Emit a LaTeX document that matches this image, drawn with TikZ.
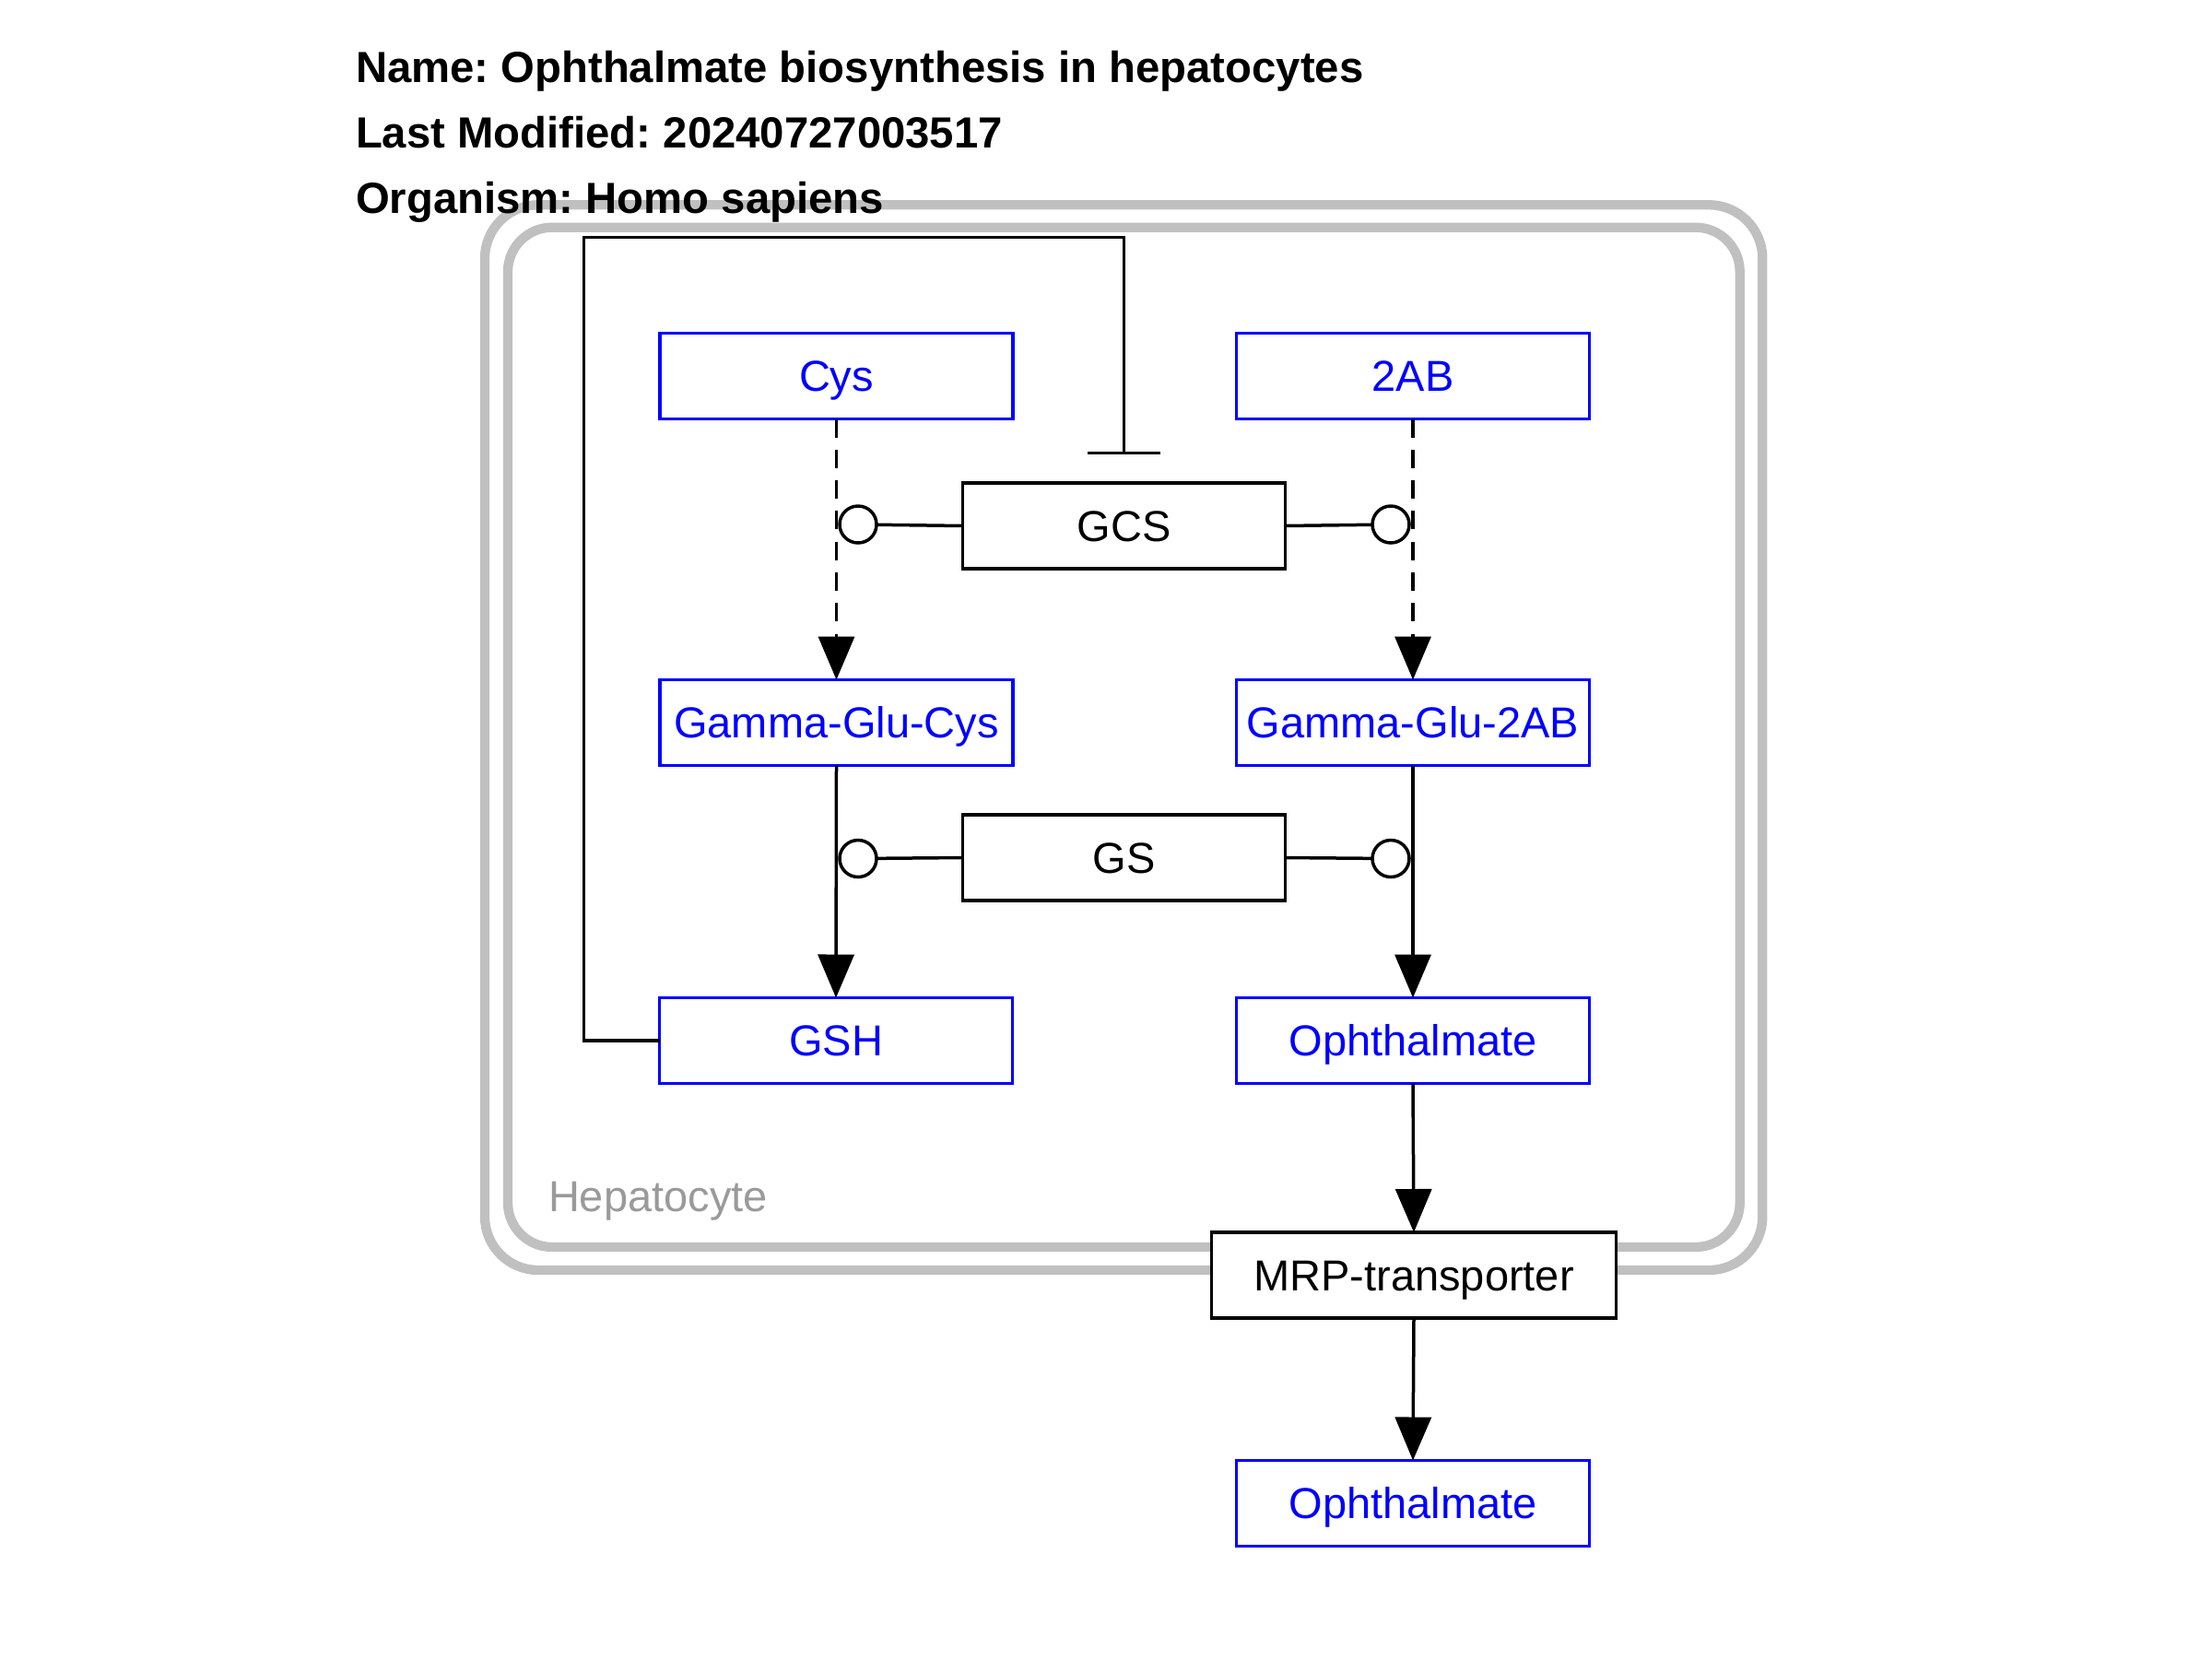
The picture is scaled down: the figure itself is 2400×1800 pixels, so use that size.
\documentclass[tikz,border=0pt]{standalone}
\usepackage{fontspec}
\setmainfont{Liberation Sans}
\usetikzlibrary{arrows.meta}
\definecolor{compgray}{HTML}{C0C0C0}
\definecolor{labgray}{HTML}{9A9A9A}
\definecolor{mblue}{HTML}{0000FF}
\frenchspacing
\begin{document}
\begin{tikzpicture}[x=1pt,y=-1pt,
  every node/.style={inner sep=0pt, outer sep=0pt},
  fs/.style={font=\fontsize{47}{56}\selectfont},
  titlefs/.style={font=\fontsize{47.3}{56}\selectfont\bfseries},
  metab/.style={rectangle, draw=mblue, text=mblue, line width=3.5pt, fill=white,
    minimum width=383pt, minimum height=93pt, fs, text height=33.6pt, text depth=0pt},
  gene/.style={rectangle, draw=black, text=black, line width=3.5pt, fill=white,
    minimum height=93pt, fs, text height=33.6pt, text depth=0pt},
  compline/.style={draw=compgray, line width=10.3pt},
  conn/.style={draw=black, line width=3.5pt},
  arr/.style={conn, -{Triangle[length=47pt,width=39pt]}},
  dasharr/.style={arr, dash pattern=on 20pt off 13.3pt},
  catal/.style={circle, draw=black, line width=3.5pt, minimum size=40pt},
  inhib/.style={conn, -{Bar[width=79pt,line width=3.5pt]}}
]
\useasboundingbox (0,0) rectangle (2400,1800);
\fill[white] (0,0) rectangle (2400,1800);

% compartment
\draw[compline, rounded corners=58pt] (526,222.3) rectangle (1912.3,1378);
\draw[compline, rounded corners=48pt] (551,246.7) rectangle (1887.7,1353);
\node[anchor=base west, fs, text=labgray] (hlab) at (595,1314) {Hepatocyte};

% title
\node[anchor=base west, titlefs] (t1) at (386,89.3) {Name: Ophthalmate biosynthesis in hepatocytes};
\node[anchor=base west, titlefs] (t2) at (386,160.7) {Last Modified: 20240727003517};
\node[anchor=base west, titlefs] (t3) at (386,231.7) {Organism: Homo sapiens};

% metabolites
\node[metab] (cys) at (907.5,408) {Cys};
\node[metab] (ab) at (1533,408) {2AB};
\node[metab] (ggc) at (907.5,784) {Gamma-Glu-Cys};
\node[metab] (gga) at (1533,784) {Gamma-Glu-2AB};
\node[metab] (gsh) at (907,1129) {GSH};
\node[metab] (oph) at (1533,1129) {Ophthalmate};
\node[metab] (oph2) at (1533,1631) {Ophthalmate};

% gene products
\node[gene, minimum width=350pt] (gcs) at (1219.5,570.5) {GCS};
\node[gene, minimum width=350pt] (gs) at (1219.5,930.5) {GS};
\node[gene, minimum width=439pt] (mrp) at (1534,1383.5) {MRP-transporter};

% conversions
\draw[dasharr] (cys.south) -- (ggc.north);
\draw[dasharr] (ab.south) -- (gga.north);
\draw[arr] (ggc.south) -- (gsh.north);
\draw[arr] (gga.south) -- (oph.north);
\draw[arr] (oph.south) -- (mrp.north);
\draw[arr] (mrp.south) -- (oph2.north);

% catalysis
\node[catal] (k1) at (931,569) {};
\node[catal] (k2) at (1509,569) {};
\node[catal] (k3) at (931,931.5) {};
\node[catal] (k4) at (1509,931.5) {};
\draw[conn] (gcs.west) -- (k1);
\draw[conn] (gcs.east) -- (k2);
\draw[conn] (gs.west) -- (k3);
\draw[conn] (gs.east) -- (k4);

% inhibition
\coordinate (ic) at (633.5,257.3);
\coordinate (tb) at (1219.5,493.3);
\draw[inhib] (gsh.west) -| (ic) -| (tb);
\end{tikzpicture}
\end{document}
